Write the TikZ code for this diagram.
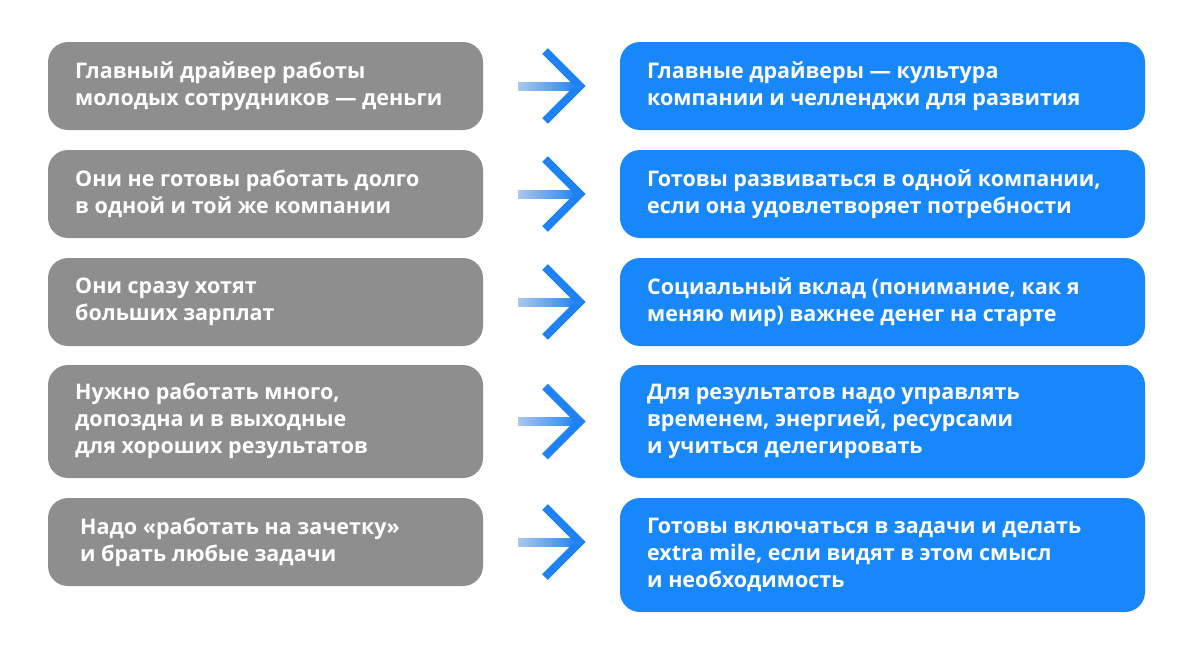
\documentclass[tikz,border=0pt]{standalone}
\usepackage{fontspec}
\setmainfont{Open Sans}[BoldFont={* Bold}]
\begin{document}
\begin{tikzpicture}[x=1pt,y=-1pt,
 box/.style={rounded corners=20pt,inner sep=0pt},
 gbox/.style={box,fill={rgb,255:red,142;green,142;blue,142}},
 bbox/.style={box,fill={rgb,255:red,24;green,135;blue,250}},
 txt/.style={anchor=west,text=white,font=\bfseries\fontsize{21.5}{27}\selectfont,align=left,inner sep=0pt},
 arr/.style={line width=8pt,draw={rgb,255:red,30;green,130;blue,245}}]
\useasboundingbox[fill=white] (0,0) rectangle (1199,651);
\foreach \ya/\yb/\yc/\yd/\n in {42/130/42/130/1,150/238/150/238/2,258/346/258/346/3,365/478/365/478/4,498/586/498/612/5}{
 \fill[gbox] (48,\ya) rectangle (483,\yb);
 \fill[bbox] (620,\yc) rectangle (1145,\yd);
 \shade[left color={rgb,255:red,170;green,200;blue,235},right color={rgb,255:red,30;green,130;blue,245}] (518,{(\ya+\yb)/2-4}) rectangle (578,{(\ya+\yb)/2+4});
 \draw[arr,line join=miter] (545,{(\ya+\yb)/2-35}) -- (580,{(\ya+\yb)/2}) -- (545,{(\ya+\yb)/2+35});
}
\node[txt] (l1) at (75,86) {Главный драйвер работы\\молодых сотрудников — деньги};
\node[txt] (l2) at (75,194) {Они не готовы работать долго\\в одной и той же компании};
\node[txt] (l3) at (75,302) {Они сразу хотят\\больших зарплат};
\node[txt] (l4) at (75,421) {Нужно работать много,\\допоздна и в выходные\\для хороших результатов};
\node[txt] (l5) at (80,542) {Надо «работать на зачетку»\\и брать любые задачи};
\node[txt] (r1) at (647,86) {Главные драйверы — культура\\компании и челленджи для развития};
\node[txt] (r2) at (647,194) {Готовы развиваться в одной компании,\\если она удовлетворяет потребности};
\node[txt] (r3) at (647,302) {Социальный вклад (понимание, как я\\меняю мир) важнее денег на старте};
\node[txt] (r4) at (647,421) {Для результатов надо управлять\\временем, энергией, ресурсами\\и учиться делегировать};
\node[txt] (r5) at (647,555) {Готовы включаться в задачи и делать\\extra mile, если видят в этом смысл\\и необходимость};
\end{tikzpicture}
\end{document}
